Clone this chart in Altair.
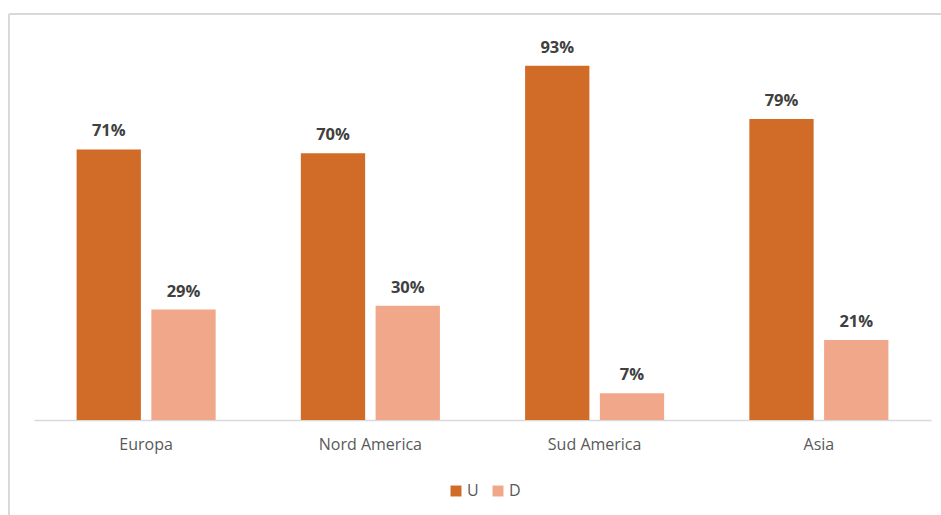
import altair as alt
import pandas as pd

regions = ["Europa", "Nord America", "Sud America", "Asia"]
u_values = [0.71, 0.70, 0.93, 0.79]
d_values = [0.29, 0.30, 0.07, 0.21]
series = ["U", "D"]
colors = ["#D06B28", "#F0A78A"]

rows = []
for r, u, d in zip(regions, u_values, d_values):
    rows.append({"region": r, "series": "U", "value": u})
    rows.append({"region": r, "series": "D", "value": d})
df = pd.DataFrame(rows)

FONT = "Open Sans"

base = alt.Chart(df).encode(
    x=alt.X("region:N", sort=regions,
            scale=alt.Scale(paddingInner=0.38, paddingOuter=0.19),
            axis=alt.Axis(title=None, labelAngle=0, ticks=False, domainColor="#D9D9D9",
                          domainWidth=1.3, labelColor="#595959", labelFontSize=16,
                          labelFont=FONT, labelPadding=16)),
    xOffset=alt.XOffset("series:N", sort=series, scale=alt.Scale(paddingInner=0.14, paddingOuter=0)),
    y=alt.Y("value:Q", scale=alt.Scale(domain=[0, 1]), axis=None),
)

bars = base.mark_bar().encode(
    color=alt.Color("series:N", sort=series,
                    scale=alt.Scale(domain=series, range=colors),
                    legend=alt.Legend(title=None, orient="none", direction="horizontal",
                                      legendX=414, legendY=444,
                                      symbolType="square", symbolSize=120, symbolStrokeWidth=0,
                                      labelFontSize=16, labelFont=FONT, labelColor="#595959",
                                      columnPadding=11, labelOffset=3)),
)

labels = base.mark_text(baseline="bottom", dy=-10, fontSize=16.5, fontWeight="bold",
                        font=FONT, color="#404040").encode(
    text=alt.Text("value:Q", format=".0%"),
)

frame_top = alt.Chart(df).mark_rule(color="#D9D9D9", strokeWidth=2).encode(
    x=alt.value(-25), x2=alt.value(910), y=alt.value(-25))
frame_left = alt.Chart(df).mark_rule(color="#D9D9D9", strokeWidth=2).encode(
    x=alt.value(-25), y=alt.value(-25), y2=alt.value(480))

chart = alt.layer(frame_top, frame_left, bars, labels).properties(
    width=897, height=381,
    background="white",
    autosize=alt.AutoSizeParams(type="none"),
    padding={"left": 34, "top": 39, "right": 10, "bottom": 95},
).configure_view(stroke=None)

chart.save("out.html", embed_options={"renderer": "svg", "actions": False})
